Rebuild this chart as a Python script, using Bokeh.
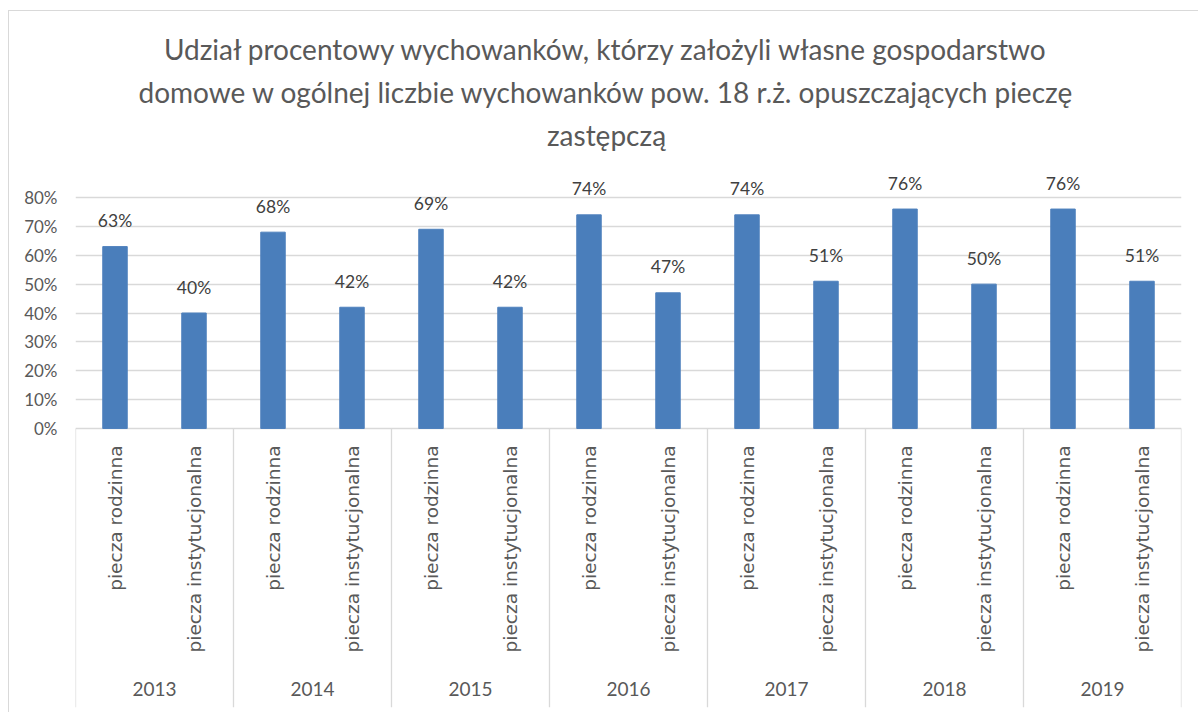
import math
from bokeh.plotting import figure
from bokeh.models import (FactorRange, Range1d, FixedTicker, ColumnDataSource,
                          CustomJSTickFormatter)
from bokeh.core.properties import value
from bokeh.embed import file_html
from bokeh.resources import INLINE

# ---- data ----
years = ["2013", "2014", "2015", "2016", "2017", "2018", "2019"]
care_types = ["piecza rodzinna", "piecza instytucjonalna"]
rodzinna = [0.63, 0.68, 0.69, 0.74, 0.74, 0.76, 0.76]
instytucjonalna = [0.40, 0.42, 0.42, 0.47, 0.51, 0.50, 0.51]
y_ticks = [0.0, 0.1, 0.2, 0.3, 0.4, 0.5, 0.6, 0.7, 0.8]
title_lines = [
    "Udział procentowy wychowanków, którzy założyli własne gospodarstwo",
    "domowe w ogólnej liczbie wychowanków pow. 18 r.ż. opuszczających pieczę",
    "zastępczą",
]

NARROW = "Lato"
WIDE = "DejaVu Sans"
BAR = "#4A7EBB"
GRID = "#D9D9D9"
TXT = "#595959"
LBL = "#404040"

factors = [(y, t) for y in years for t in care_types]
vals = []
for a, b in zip(rodzinna, instytucjonalna):
    vals += [a, b]
labels = ["%d%%" % round(v * 100) for v in vals]

x_range = FactorRange(*factors, group_padding=0, subgroup_padding=0,
                      factor_padding=0, range_padding=0)
y_range = Range1d(-0.9662, 1.4442)

p = figure(width=1190, height=702, x_range=x_range, y_range=y_range,
           output_backend="svg", toolbar_location=None, title=None,
           min_border_left=66, min_border_right=18, min_border_top=0,
           min_border_bottom=6,
           margin=(10, 0, 0, 8),
           styles={"border-left": "1px solid #D9D9D9",
                   "border-top": "1px solid #D9D9D9"})
p.outline_line_color = None
p.background_fill_color = "white"
p.border_fill_color = "white"

p.xaxis.visible = False
p.xgrid.visible = False

yax = p.yaxis[0]
yax.ticker = FixedTicker(ticks=y_ticks)
yax.formatter = CustomJSTickFormatter(code="return Math.round(tick*100) + '%';")
yax.axis_line_color = None
yax.major_tick_line_color = None
yax.minor_tick_line_color = None
yax.major_tick_out = 0
yax.major_tick_in = 0
yax.major_label_standoff = 18
yax.major_label_text_font = NARROW
yax.major_label_text_font_size = "17px"
yax.major_label_text_color = TXT

p.ygrid.ticker = FixedTicker(ticks=y_ticks)
p.ygrid.grid_line_color = GRID
p.ygrid.grid_line_width = 1.3

# group separators
seps = list(range(0, len(factors) + 1, 2))
p.segment(x0=seps, y0=[0] * len(seps), x1=seps, y1=[y_range.start] * len(seps),
          line_color=GRID, line_width=1.3)

src = ColumnDataSource(dict(x=factors, top=vals, label=labels,
                            cat=[f[1] for f in factors]))
p.vbar(x="x", top="top", width=0.31, source=src, fill_color=BAR,
       line_color="#4F81BD", line_width=1)

p.text(x="x", y="top", text="label", source=src, text_align="center",
       text_baseline="alphabetic", y_offset=-26, text_font=value(NARROW),
       text_font_size="17.5px", text_color=LBL)

p.text(x="x", y=0, text="cat", source=src, angle=math.pi / 2,
       text_align="right", text_baseline="middle", y_offset=17,
       text_font=value(WIDE), text_font_size="18.5px", text_color=TXT)

ysrc = ColumnDataSource(dict(x=years, y=[y_range.start] * len(years), t=years))
p.text(x="x", y="y", text="t", source=ysrc, text_align="center",
       text_baseline="alphabetic", y_offset=-19, text_font=value(NARROW),
       text_font_size="19px", text_color=TXT)

tsrc = ColumnDataSource(dict(x=[7.0] * 3, y=[y_range.end] * 3, t=title_lines,
                             off=[37, 80, 123]))
p.text(x="x", y="y", text="t", source=tsrc, text_align="center",
       text_baseline="alphabetic", x_offset=-22, y_offset="off",
       text_font=value(NARROW), text_font_size="28px", text_color=TXT)

open("out.html", "w").write(file_html(p, INLINE))
